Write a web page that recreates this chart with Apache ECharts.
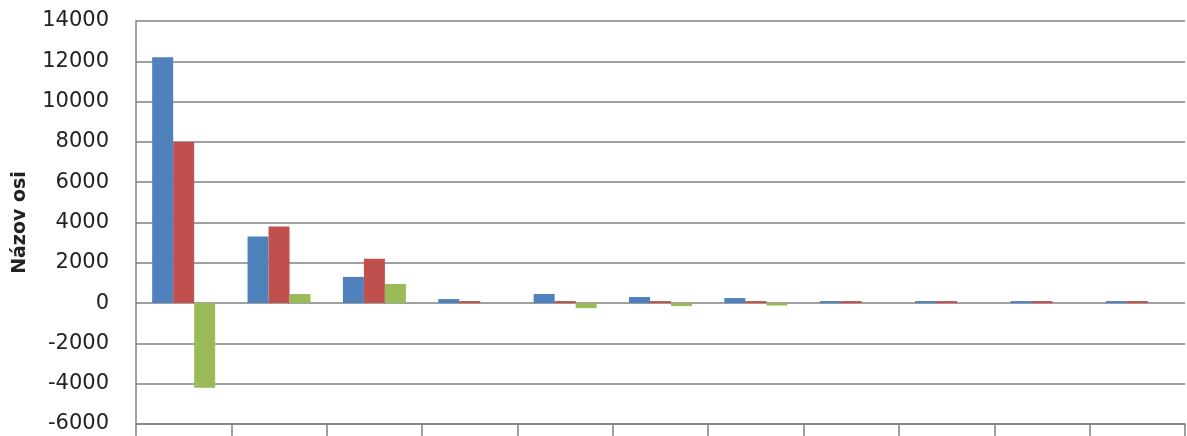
<!DOCTYPE html>
<html>
<head>
  <meta charset="utf-8">
  <title>chart</title>
  <script src="https://cdn.jsdelivr.net/npm/echarts@6/dist/echarts.min.js"></script>
  <style>
    html, body { margin: 0; padding: 0; background: #fff; }
  </style>
</head>
<body>
<div id="main" style="width: 1187px; height: 436px"></div>
<script type="text/javascript">
  // data
  var categories = ['1', '2', '3', '4', '5', '6', '7', '8', '9', '10', '11'];
  var blueValues = [12200, 3300, 1300, 200, 450, 300, 250, 100, 100, 100, 100];
  var redValues = [8000, 3800, 2200, 100, 100, 100, 100, 100, 100, 100, 100];
  var greenValues = [-4200, 450, 950, 0, -250, -150, -120, 0, 0, 0, 0];
  var yTicks = { min: -6000, max: 14000, step: 2000 };

  var myChart = echarts.init(document.getElementById('main'));

  var barStyle = function (color) {
    return {
      type: 'bar',
      barWidth: 21,
      barGap: '0%',
      itemStyle: { color: color }
    };
  };

  var s1 = barStyle('#4f81bd'); s1.name = 'A'; s1.data = blueValues;
  var s2 = barStyle('#c0504d'); s2.name = 'B'; s2.data = redValues;
  var s3 = barStyle('#9bbb59'); s3.name = 'C'; s3.data = greenValues;

  myChart.setOption({
    animation: false,
    grid: { left: 136, right: 2, top: 21, bottom: 12 },
    xAxis: {
      type: 'category',
      data: categories,
      axisLine: { onZero: false, lineStyle: { color: '#808080', width: 1.5 } },
      axisTick: { show: true, length: 14, lineStyle: { color: '#808080', width: 1.5 } },
      axisLabel: { show: false }
    },
    yAxis: {
      type: 'value',
      min: yTicks.min,
      max: yTicks.max,
      interval: yTicks.step,
      name: 'Názov osi',
      nameLocation: 'middle',
      nameGap: 106,
      nameTextStyle: { fontFamily: 'DejaVu Sans', fontWeight: 'bold', fontSize: 19, color: '#222' },
      axisLine: { show: true, lineStyle: { color: '#808080', width: 1.5 } },
      axisTick: { show: false },
      axisLabel: {
        fontFamily: 'DejaVu Sans', fontSize: 21, color: '#222', margin: 27,
        formatter: function (v) { return String(v); }
      },
      splitLine: { lineStyle: { color: '#808080', width: 1.5 } }
    },
    series: [s1, s2, s3]
  });
</script>
</body>
</html>
